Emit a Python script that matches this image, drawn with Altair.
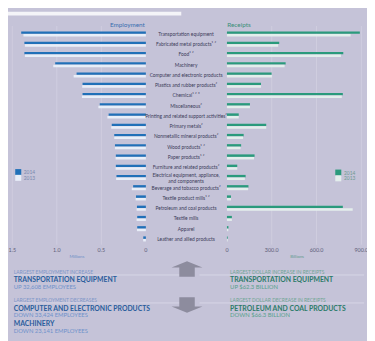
import altair as alt
import pandas as pd

# ---------------- data ----------------
categories = [
    "Transportation equipment", "Fabricated metal products", "Food", "Machinery",
    "Computer and electronic products", "Plastics and rubber products", "Chemical",
    "Miscellaneous", "Printing and related support activities", "Primary metals",
    "Nonmetallic mineral products", "Wood products", "Paper products",
    "Furniture and related products", "Electrical equipment, appliance, and components",
    "Beverage and tobacco products", "Textile product mills", "Petroleum and coal products",
    "Textile mills", "Apparel", "Leather and allied products",
]
labels = [
    "Transportation equipment", "Fabricated metal products\u00b9 \u00b2", "Food\u00b9 \u00b2", "Machinery",
    "Computer and electronic products", "Plastics and rubber products\u00b2", "Chemical\u00b9 \u00b2 \u00b3",
    "Miscellaneous\u00b2", "Printing and related support activities\u00b2", "Primary metals\u00b2",
    "Nonmetallic mineral products\u00b2", "Wood products\u00b9 \u00b2", "Paper products\u00b9 \u00b2",
    "Furniture and related products\u00b2", "Electrical equipment, appliance,\nand components",
    "Beverage and tobacco products\u00b2", "Textile product mills\u00b9 \u00b2", "Petroleum and coal products",
    "Textile mills", "Apparel", "Leather and allied products",
]
emp_2014 = [1.400, 1.364, 1.364, 1.018, 0.778, 0.711, 0.711, 0.518, 0.418, 0.383, 0.355,
            0.347, 0.337, 0.337, 0.330, 0.143, 0.111, 0.100, 0.097, 0.097, 0.029]
emp_2013 = [1.375, 1.358, 1.358, 1.040, 0.811, 0.715, 0.718, 0.533, 0.432, 0.389, 0.355,
            0.347, 0.340, 0.340, 0.334, 0.158, 0.115, 0.104, 0.104, 0.100, 0.030]
rec_2014 = [890, 350, 779, 393, 299, 228, 776, 154, 79, 263, 112,
            95, 185, 69, 125, 144, 27, 776, 33, 10, 5]
rec_2013 = [828, 343, 763, 386, 301, 228, 769, 154, 79, 263, 108,
            91, 181, 69, 120, 142, 27, 842, 33, 9, 5]
years = ["2014", "2013"]
emp_ticks = [0, 0.5, 1.0, 1.5]
emp_tick_labels = ["0", "0.5", "1.0", "1.5"]
rec_ticks = [0, 300, 600, 900]
rec_tick_labels = ["0", "300.0", "600.0", "900.0"]

# ---------------- layout helpers ----------------
W, H = 367, 333
SX, SY = W / 375, H / 341
def X(v): return v * SX
def Y(v): return v * SY

FONT = "Lato"
BG = "#c5c3d8"
BLUE = "#2070b8"
LBLUE = "#e8eef8"
GREEN = "#2a9a7c"
LGREEN = "#e3eeec"
GRID = "#d2d0e2"
LABEL = "#3b3b58"

df = pd.DataFrame({"cat": categories, "label": labels,
                   "emp14": emp_2014, "emp13": emp_2013,
                   "rec14": rec_2014, "rec13": rec_2013})
multi = df["label"].str.contains("\n")

yscale = alt.Scale(domain=categories, range=[Y(17.97), Y(243.3)], paddingInner=0, paddingOuter=0)
emp_scale = alt.Scale(domain=[0, 1.5], range=[X(144), X(4.5)])
rec_scale = alt.Scale(domain=[0, 900], range=[X(228.7), X(369.1)])

def bars(field, scale, color, off):
    return alt.Chart(df).mark_bar(size=2.6 * SY, yOffset=off * SY, color=color).encode(
        x=alt.X(f"{field}:Q", scale=scale, axis=None),
        y=alt.Y("cat:N", scale=yscale, axis=None),
    )

def grid(ticks, scale):
    return alt.Chart(pd.DataFrame({"v": ticks[1:]})).mark_rule(color=GRID, strokeWidth=0.8).encode(
        x=alt.X("v:Q", scale=scale, axis=None),
        y=alt.value(Y(15)), y2=alt.value(Y(244)),
    )

def ticklabels(ticks, labs, scale):
    return alt.Chart(pd.DataFrame({"v": ticks, "t": labs})).mark_text(
        font=FONT, fontSize=5.5, color="#5e5e78", baseline="middle").encode(
        x=alt.X("v:Q", scale=scale, axis=None),
        y=alt.value(Y(249.5)), text="t:N",
    )

def note(s, x, y, size, color, weight="normal", align="left"):
    return alt.Chart(pd.DataFrame({"t": [s]})).mark_text(
        font=FONT, fontSize=size, color=color, fontWeight=weight, align=align,
        baseline="middle").encode(x=alt.value(X(x)), y=alt.value(Y(y)), text="t:N")

def hline(x1, x2, y, color="#dcdbea"):
    return alt.Chart(pd.DataFrame({"a": [0]})).mark_rule(color=color, strokeWidth=0.8).encode(
        x=alt.value(X(x1)), x2=alt.value(X(x2)), y=alt.value(Y(y)))

def legend(x_sw, x_txt, y0, y1, colors, txtcolor):
    ys = alt.Scale(domain=years, range=[Y(y0), Y(y1)], paddingInner=0.05, paddingOuter=0)
    sw = alt.Chart(pd.DataFrame({"year": years})).mark_square(size=38, opacity=1).encode(
        x=alt.value(X(x_sw)),
        y=alt.Y("year:N", scale=ys, axis=None),
        color=alt.Color("year:N", scale=alt.Scale(domain=years, range=colors), legend=None),
    )
    tx = alt.Chart(pd.DataFrame({"year": years})).mark_text(
        font=FONT, fontSize=5, color=txtcolor, align="left", baseline="middle").encode(
        x=alt.value(X(x_txt)),
        y=alt.Y("year:N", scale=ys, axis=None),
        text="year:N",
    )
    return [sw, tx]

center_labels = alt.Chart(df[~multi]).mark_text(
    font=FONT, fontSize=5, color=LABEL, align="center", baseline="middle").encode(
    x=alt.value(X(186)),
    y=alt.Y("cat:N", scale=yscale, axis=None),
    text="label:N",
)
center_labels_multi = alt.Chart(df[multi]).mark_text(
    font=FONT, fontSize=5, color=LABEL, align="center", baseline="middle",
    lineBreak="\n", lineHeight=6, dy=-2.6).encode(
    x=alt.value(X(186)),
    y=alt.Y("cat:N", scale=yscale, axis=None),
    text="label:N",
)

top_strip = alt.Chart(pd.DataFrame({"a": [0]})).mark_rect(color="#f4f4f8").encode(
    x=alt.value(0), x2=alt.value(X(181)), y=alt.value(0), y2=alt.value(Y(4)))

up_path = "M0,-0.5 L1,-0.1 L0.5,-0.1 L0.5,0.5 L-0.5,0.5 L-0.5,-0.1 L-1,-0.1 Z"
down_path = "M0,0.5 L1,0.1 L0.5,0.1 L0.5,-0.5 L-0.5,-0.5 L-0.5,0.1 L-1,0.1 Z"
def arrow(path, y):
    return alt.Chart(pd.DataFrame({"a": [0]})).mark_point(
        shape=path, filled=True, size=1000, color="#8d8c9e", opacity=1).encode(
        x=alt.value(X(187)), y=alt.value(Y(y)))

HDR_B, BOLD_B, SUB_B = "#7d96c8", "#2a5d9c", "#6f92cb"
HDR_G, BOLD_G, SUB_G = "#6fa595", "#2c7b69", "#58a18d"

layers = [
    top_strip,
    grid(emp_ticks, emp_scale), grid(rec_ticks, rec_scale),
    bars("emp14", emp_scale, BLUE, -1.35), bars("emp13", emp_scale, LBLUE, 1.35),
    bars("rec14", rec_scale, GREEN, -1.35), bars("rec13", rec_scale, LGREEN, 1.35),
    center_labels, center_labels_multi,
    ticklabels(emp_ticks, emp_tick_labels, emp_scale),
    ticklabels(rec_ticks, rec_tick_labels, rec_scale),
    note("Employment", 143, 14, 6.5, "#3a6fb0", align="right"),
    note("Receipts", 229, 14, 6.5, "#3a8f79"),
    note("Millions", 72, 256.5, 4.5, "#6f8fc7", align="center"),
    note("Billions", 302, 257, 4.5, "#5f9a8c", align="center"),
    *legend(10.7, 16.5, 165, 177, [BLUE, LBLUE], "#7a88ad"),
    *legend(345, 351, 165.5, 177.5, [GREEN, LGREEN], "#6f9a90"),
    hline(6, 182, 275.7), hline(200, 372, 275.7),
    hline(6, 182, 305), hline(200, 372, 305),
    arrow(up_path, 269.5), arrow(down_path, 307),
    note("LARGEST EMPLOYMENT INCREASE", 6, 272.3, 5, HDR_B),
    note("TRANSPORTATION EQUIPMENT", 6, 281, 7, BOLD_B, "bold"),
    note("UP 32,608 EMPLOYEES", 6, 288.5, 6, SUB_B),
    note("LARGEST EMPLOYMENT DECREASES", 6, 301.8, 5, HDR_B),
    note("COMPUTER AND ELECTRONIC PRODUCTS", 6, 311, 7, BOLD_B, "bold"),
    note("DOWN 33,424 EMPLOYEES", 6, 318, 6, SUB_B),
    note("MACHINERY", 6, 327.5, 7, BOLD_B, "bold"),
    note("DOWN 23,141 EMPLOYEES", 6, 334.5, 6, SUB_B),
    note("LARGEST DOLLAR INCREASE IN RECEIPTS", 232, 272.3, 5, HDR_G),
    note("TRANSPORTATION EQUIPMENT", 232, 281, 7, BOLD_G, "bold"),
    note("UP $62.3 BILLION", 232, 288.5, 6, SUB_G),
    note("LARGEST DOLLAR DECREASE IN RECEIPTS", 232, 301.8, 5, HDR_G),
    note("PETROLEUM AND COAL PRODUCTS", 232, 311, 7, BOLD_G, "bold"),
    note("DOWN $66.3 BILLION", 232, 318, 6, SUB_G),
]

chart = alt.layer(*layers).resolve_scale(
    x="independent", y="independent", color="independent"
).properties(
    width=W, height=H, padding=0, autosize="none", background=BG
).configure_view(strokeWidth=0)

chart.save("out.html", embed_options={"renderer": "svg", "actions": False})
